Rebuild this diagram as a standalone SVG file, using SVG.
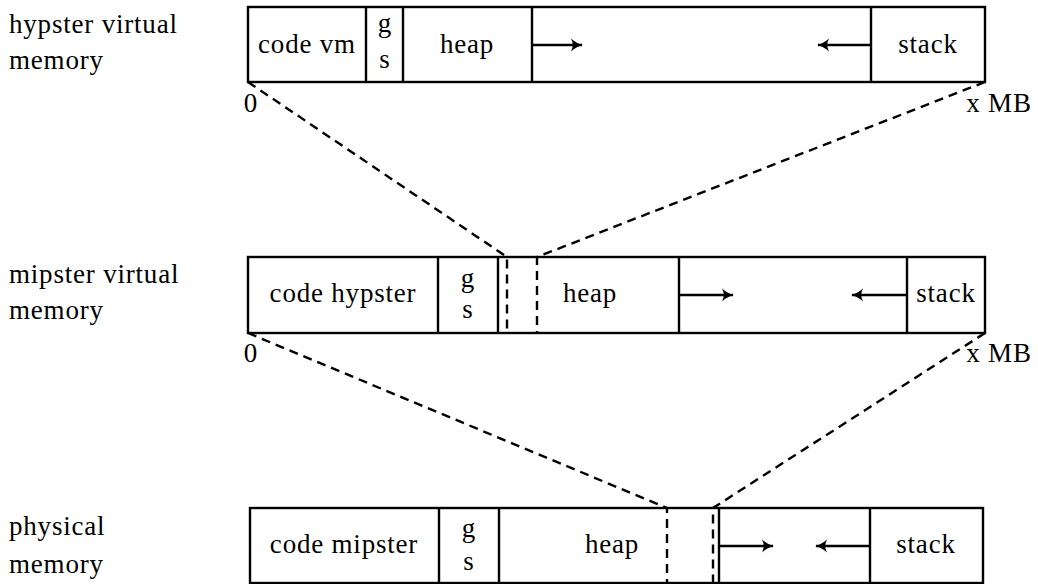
<svg xmlns="http://www.w3.org/2000/svg" width="1038" height="584" viewBox="0 0 1038 584">
<style>
.box{fill:#fff;stroke:#000;stroke-width:2.4}
.div{stroke:#000;stroke-width:2.4;fill:none}
.dash{stroke:#000;stroke-width:2.4;fill:none;stroke-dasharray:9,6}
.arr{stroke:#000;stroke-width:2.6;fill:none;marker-end:url(#ah)}
.t{font-size:27px;fill:#000;letter-spacing:0.8px}
.c{text-anchor:middle}
</style>
<defs>
<marker id="ah" viewBox="-12 -7 14 14" markerWidth="14" markerHeight="14" refX="0" refY="0" orient="auto" markerUnits="userSpaceOnUse">
<path d="M-11,-6.5 Q-5,-1.2 1,0 Q-5,1.2 -11,6.5 Q-7.5,0 -11,-6.5 Z" fill="#000"/>
</marker>
</defs>
<g font-family="'Liberation Serif', 'Times New Roman', 'DejaVu Serif', serif">
<g id="labels">
<text class="t" x="9" y="33">hypster virtual</text>
<text class="t" x="9" y="69">memory</text>
<text class="t" x="9" y="283">mipster virtual</text>
<text class="t" x="9" y="319">memory</text>
<text class="t" x="9" y="535">physical</text>
<text class="t" x="9" y="573">memory</text>
</g>
<g id="hypster">
<rect class="box" x="248" y="7" width="737" height="75"/>
<line class="div" x1="366" y1="7" x2="366" y2="82"/>
<line class="div" x1="403" y1="7" x2="403" y2="82"/>
<line class="div" x1="532" y1="7" x2="532" y2="82"/>
<line class="div" x1="871" y1="7" x2="871" y2="82"/>
<text class="t c" x="307" y="53">code vm</text>
<text class="t c" x="385" y="32">g</text>
<text class="t c" x="385" y="68">s</text>
<text class="t c" x="467" y="53">heap</text>
<text class="t c" x="928" y="53">stack</text>
<line class="arr" x1="532" y1="45" x2="582" y2="45"/>
<line class="arr" x1="871" y1="45" x2="818" y2="45"/>
<text class="t c" x="251" y="112">0</text>
<text class="t c" x="999" y="112">x MB</text>
</g>
<g id="mipster">
<rect class="box" x="248" y="257" width="737" height="76"/>
<line class="div" x1="438" y1="257" x2="438" y2="333"/>
<line class="div" x1="498" y1="257" x2="498" y2="333"/>
<line class="div" x1="679" y1="257" x2="679" y2="333"/>
<line class="div" x1="907" y1="257" x2="907" y2="333"/>
<text class="t c" x="343" y="302">code hypster</text>
<text class="t c" x="468" y="287">g</text>
<text class="t c" x="468" y="318">s</text>
<text class="t c" x="590" y="302">heap</text>
<text class="t c" x="946" y="302">stack</text>
<line class="arr" x1="679" y1="295" x2="733" y2="295"/>
<line class="arr" x1="907" y1="295" x2="852" y2="295"/>
<text class="t c" x="251" y="362">0</text>
<text class="t c" x="999" y="362">x MB</text>
</g>
<g id="physical">
<rect class="box" x="250" y="508" width="733" height="75"/>
<line class="div" x1="439" y1="508" x2="439" y2="583"/>
<line class="div" x1="499" y1="508" x2="499" y2="583"/>
<line class="div" x1="719" y1="508" x2="719" y2="583"/>
<line class="div" x1="870" y1="508" x2="870" y2="583"/>
<text class="t c" x="344" y="553">code mipster</text>
<text class="t c" x="469" y="537">g</text>
<text class="t c" x="469" y="570">s</text>
<text class="t c" x="612" y="553">heap</text>
<text class="t c" x="926" y="553">stack</text>
<line class="arr" x1="719" y1="546" x2="773" y2="546"/>
<line class="arr" x1="870" y1="546" x2="816" y2="546"/>
</g>
</g>
<g id="connectors">
<path class="dash" d="M248,82 L507,257 L507,333"/>
<path class="dash" d="M985,82 L537,257 L537,333"/>
<path class="dash" d="M248,333 L667,508 L667,583"/>
<path class="dash" d="M985,333 L713,508 L713,583"/>
</g>
</svg>
